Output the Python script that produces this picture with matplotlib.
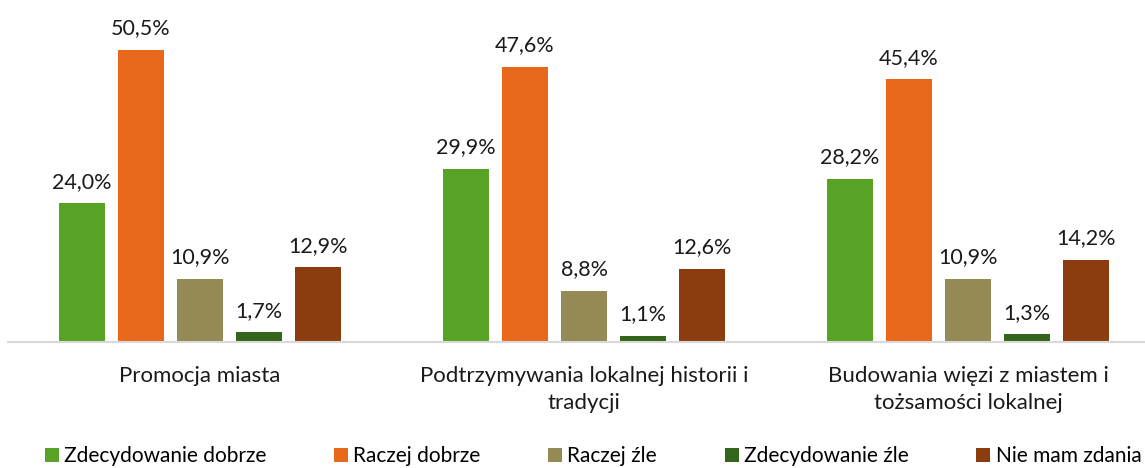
import numpy as np
import matplotlib.pyplot as plt

plt.rcParams['font.family'] = ['Lato', 'DejaVu Sans']

categories = ['Promocja miasta', 'Podtrzymywania lokalnej historii i\ntradycji',
              'Budowania więzi z miastem i\ntożsamości lokalnej']
series = ['Zdecydowanie dobrze', 'Raczej dobrze', 'Raczej źle', 'Zdecydowanie źle', 'Nie mam zdania']
values = [
    [24.0, 29.9, 28.2],
    [50.5, 47.6, 45.4],
    [10.9, 8.8, 10.9],
    [1.7, 1.1, 1.3],
    [12.9, 12.6, 14.2],
]
colors = ['#58A225', '#E8691C', '#948A54', '#33651A', '#8B3D10']

fig = plt.figure(figsize=(11.45, 4.68), dpi=100)
ax = fig.add_axes([8 / 1145, 1 - 342 / 468, 1152 / 1145, 332 / 468])

x = np.arange(len(categories))
step = 0.1536
width = 0.12
for i, (name, vals, c) in enumerate(zip(series, values, colors)):
    pos = x + (i - 2) * step
    bars = ax.bar(pos, vals, width, color=c, label=name)
    for b, v in zip(bars, vals):
        ax.text(b.get_x() + b.get_width() / 2, v + 2.0, f'{v:.1f}%'.replace('.', ','),
                ha='center', va='bottom', fontsize=15.5, color='#1a1a1a')

ax.set_xlim(-0.5, 2.5)
ax.set_ylim(0, 57.4)
ax.set_yticks([])
ax.set_xticks(x)
ax.set_xticklabels(categories, fontsize=16, color='#1a1a1a', linespacing=1.45)
ax.tick_params(axis='x', length=0, pad=17)
for s in ['top', 'right', 'left']:
    ax.spines[s].set_visible(False)
ax.spines['bottom'].set_color('#D9D9D9')
ax.spines['bottom'].set_linewidth(1.5)

fig.legend(loc='lower center', bbox_to_anchor=(0.518, -0.036), ncol=5, frameon=False,
           fontsize=15, handlelength=0.67, handleheight=0.67, handletextpad=0.25,
           columnspacing=3.25)

fig.savefig('out.png', dpi=100)
